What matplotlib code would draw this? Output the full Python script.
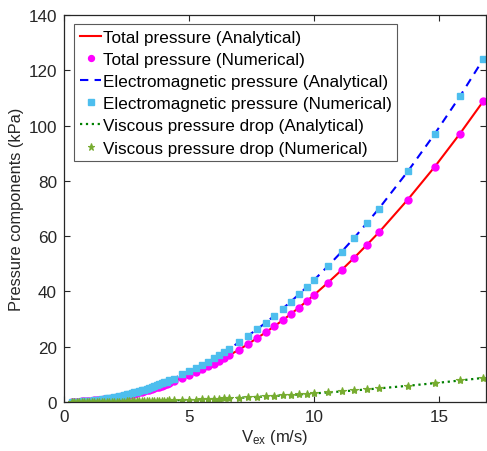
import matplotlib
matplotlib.use("Agg")
import matplotlib.pyplot as plt

plt.rcParams['font.family'] = ['Liberation Sans', 'DejaVu Sans']

# Flow velocity V_ex (m/s)
v_ex = [0.3, 0.4, 0.5, 0.6, 0.7, 0.8, 0.9, 1.0, 1.1, 1.2, 1.3, 1.4, 1.5, 1.6,
        1.7, 1.8, 1.9, 2.0, 2.1, 2.2, 2.3, 2.4, 2.5, 2.6, 2.7, 2.8, 2.9, 3.0,
        3.1, 3.2, 3.3, 3.4, 3.5, 3.6, 3.7, 3.8, 3.9, 4.0, 4.1, 4.2,
        4.40, 4.72, 5.00, 5.27, 5.52, 5.77, 6.00, 6.20, 6.40, 6.60, 7.00,
        7.35, 7.72, 8.07, 8.41, 8.75, 9.07, 9.39, 9.70, 10.00, 10.56, 11.10,
        11.61, 12.11, 12.60, 13.75, 14.83, 15.84, 16.77]

# Electromagnetic pressure (kPa)
p_em = [0.04, 0.07, 0.11, 0.16, 0.22, 0.28, 0.36, 0.44, 0.53, 0.64, 0.75, 0.86,
        0.99, 1.13, 1.27, 1.43, 1.59, 1.76, 1.94, 2.13, 2.33, 2.54, 2.76, 2.98,
        3.21, 3.46, 3.71, 3.97, 4.24, 4.52, 4.80, 5.10, 5.40, 5.72, 6.04, 6.37,
        6.71, 7.06, 7.41, 7.78,
        8.5, 10.0, 11.1, 12.3, 13.4, 14.6, 15.8, 16.9, 18.0, 19.2, 21.6,
        23.9, 26.3, 28.7, 31.2, 33.8, 36.3, 38.9, 41.5, 44.1, 49.2, 54.3,
        59.4, 64.7, 70.0, 83.4, 97.0, 110.6, 124.0]

# Total pressure (kPa)
p_total = [0.03, 0.06, 0.10, 0.14, 0.19, 0.25, 0.31, 0.39, 0.47, 0.56, 0.65, 0.76,
           0.87, 0.99, 1.12, 1.25, 1.40, 1.55, 1.71, 1.87, 2.05, 2.23, 2.42, 2.62,
           2.82, 3.03, 3.25, 3.48, 3.72, 3.96, 4.21, 4.47, 4.74, 5.02, 5.30, 5.59,
           5.89, 6.19, 6.51, 6.83,
           7.6, 8.7, 9.7, 10.8, 11.8, 12.9, 13.9, 14.9, 15.9, 16.9, 18.9,
           20.9, 23.1, 25.2, 27.4, 29.6, 31.8, 34.1, 36.4, 38.7, 43.2, 47.7,
           52.2, 56.8, 61.4, 73.2, 85.1, 97.1, 108.8]

# Viscous pressure drop (kPa)
p_visc = [0.00, 0.00, 0.01, 0.01, 0.02, 0.02, 0.03, 0.03, 0.04, 0.04, 0.05, 0.06,
          0.07, 0.08, 0.09, 0.10, 0.11, 0.12, 0.14, 0.15, 0.16, 0.18, 0.19, 0.21,
          0.23, 0.24, 0.26, 0.28, 0.30, 0.32, 0.34, 0.36, 0.38, 0.40, 0.42, 0.45,
          0.47, 0.50, 0.52, 0.55,
          0.60, 0.69, 0.78, 0.86, 0.94, 1.03, 1.12, 1.19, 1.27, 1.35, 1.52,
          1.67, 1.85, 2.02, 2.19, 2.37, 2.55, 2.73, 2.92, 3.10, 3.46, 3.82,
          4.18, 4.55, 4.92, 5.86, 6.82, 7.78, 8.72]

labels = ['Total pressure (Analytical)', 'Total pressure (Numerical)',
          'Electromagnetic pressure (Analytical)', 'Electromagnetic pressure (Numerical)',
          'Viscous pressure drop (Analytical)', 'Viscous pressure drop (Numerical)']

x_ticks = [0, 5, 10, 15]
y_ticks = [0, 20, 40, 60, 80, 100, 120, 140]

fig = plt.figure(figsize=(4.87, 4.52), dpi=100)
ax = fig.add_axes([64/487, 1 - 403/452, (486-64)/487, (403-16)/452])

ax.plot(v_ex, p_total, '-', color='#FF0000', lw=1.5, label=labels[0])
ax.plot(v_ex, p_total, 'o', ls='none', color='#FF00FF', ms=5, mec='#FF00FF', label=labels[1])
ax.plot(v_ex, p_em, '--', color='#0000FF', lw=1.5, dashes=(4, 3), label=labels[2])
ax.plot(v_ex, p_em, 's', ls='none', color='#4DBEEE', ms=5, mec='#4DBEEE', label=labels[3])
ax.plot(v_ex, p_visc, ':', color='#008000', lw=1.6, label=labels[4])
ax.plot(v_ex, p_visc, marker='*', ls='none', color='#77AC30', ms=6, mew=0.8,
        mec='#77AC30', label=labels[5])

ax.set_xlim(0, 16.88)
ax.set_ylim(0, 140)
ax.set_xticks(x_ticks)
ax.set_yticks(y_ticks)

tc = '#262626'
ax.tick_params(direction='in', length=4.5, width=0.8, top=True, right=True,
               labelsize=12.3, colors=tc, pad=5)
for s in ax.spines.values():
    s.set_color(tc)
    s.set_linewidth(0.9)

ax.set_xlabel(r'$\mathregular{V_{ex}}$ (m/s)', fontsize=12, color=tc, labelpad=2)
ax.set_ylabel('Pressure components (kPa)', fontsize=11.8, color=tc, labelpad=3)

leg = ax.legend(loc='upper left', bbox_to_anchor=(10.3/422, 1 - 9/387), fontsize=12.3,
                frameon=True, fancybox=False, edgecolor='#5a5a5a', framealpha=1,
                handlelength=1.25, handletextpad=0.08, borderpad=0.33, labelspacing=0.42,
                borderaxespad=0, markerscale=0.85)
leg.get_frame().set_linewidth(0.8)

fig.savefig('out.png', dpi=100)
